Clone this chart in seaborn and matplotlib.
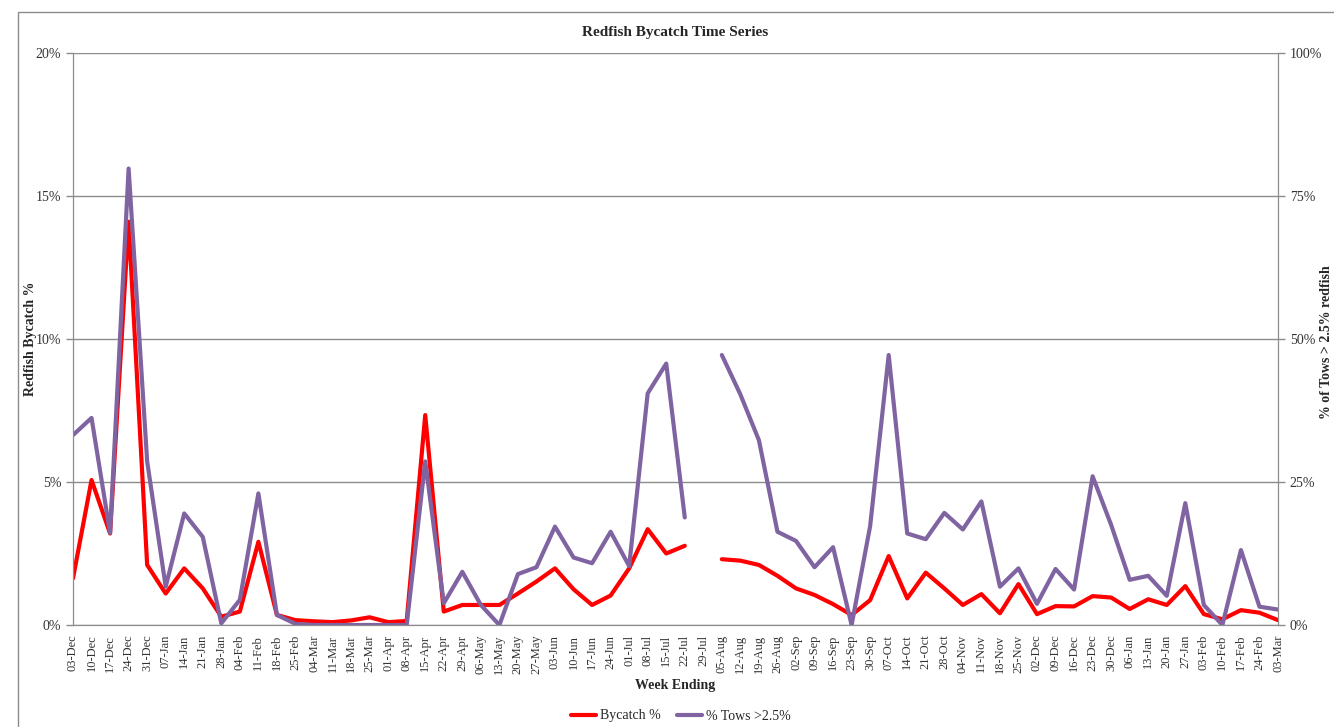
import matplotlib
matplotlib.use('Agg')
import matplotlib.pyplot as plt
import matplotlib.patches as mpatches
from matplotlib.lines import Line2D
from matplotlib.ticker import FuncFormatter, MultipleLocator
import seaborn as sns
import numpy as np
import pandas as pd

# week ending labels
weeks = ['03-Dec', '10-Dec', '17-Dec', '24-Dec', '31-Dec', '07-Jan', '14-Jan', '21-Jan', '28-Jan',
         '04-Feb', '11-Feb', '18-Feb', '25-Feb', '04-Mar', '11-Mar', '18-Mar', '25-Mar', '01-Apr',
         '08-Apr', '15-Apr', '22-Apr', '29-Apr', '06-May', '13-May', '20-May', '27-May', '03-Jun',
         '10-Jun', '17-Jun', '24-Jun', '01-Jul', '08-Jul', '15-Jul', '22-Jul', '29-Jul', '05-Aug',
         '12-Aug', '19-Aug', '26-Aug', '02-Sep', '09-Sep', '16-Sep', '23-Sep', '30-Sep', '07-Oct',
         '14-Oct', '21-Oct', '28-Oct', '04-Nov', '11-Nov', '18-Nov', '25-Nov', '02-Dec', '09-Dec',
         '16-Dec', '23-Dec', '30-Dec', '06-Jan', '13-Jan', '20-Jan', '27-Jan', '03-Feb', '10-Feb',
         '17-Feb', '24-Feb', '03-Mar']

# redfish bycatch % (left axis)
bycatch = [1.63, 5.07, 3.2, 14.1, 2.1, 1.1, 1.98, 1.28, 0.29, 0.47, 2.91, 0.35, 0.17, 0.13,
           0.1, 0.16, 0.27, 0.1, 0.14, 7.34, 0.47, 0.7, 0.7, 0.7, 1.1, 1.52, 1.98, 1.25, 0.7,
           1.03, 1.98, 3.35, 2.5, 2.77, np.nan, 2.3, 2.25, 2.1, 1.72, 1.28, 1.05, 0.73, 0.35,
           0.87, 2.41, 0.93, 1.83, 1.28, 0.7, 1.08, 0.41, 1.43, 0.38, 0.66, 0.65, 1.01, 0.96,
           0.56, 0.9, 0.7, 1.36, 0.38, 0.2, 0.52, 0.43, 0.17]

# % of tows > 2.5% redfish (right axis)
tows = [33.2, 36.2, 16.1, 79.8, 28.6, 6.7, 19.5, 15.4, 0.3, 4.4, 23.0, 1.75, 0.2, 0.0,
        0.0, 0.0, 0.0, 0.0, 0.0, 28.6, 3.8, 9.3, 3.5, 0.0, 8.9, 10.1, 17.2, 11.8, 10.8,
        16.3, 10.3, 40.5, 45.7, 18.8, np.nan, 47.2, 40.3, 32.3, 16.3, 14.7, 10.1, 13.6, 0.0,
        17.3, 47.2, 16.0, 15.0, 19.6, 16.7, 21.6, 6.7, 9.9, 3.7, 9.8, 6.2, 26.0, 17.5,
        7.9, 8.6, 5.1, 21.3, 3.5, 0.0, 13.1, 3.2, 2.7]

RED = '#FF0000'
PURPLE = '#8064A2'
GRID = '#8C8C8C'

sns.set_style('white')
plt.rcParams['font.family'] = ['Liberation Serif', 'DejaVu Serif']

def frame(vals):
    df = pd.DataFrame({'idx': np.arange(len(vals)), 'val': vals})
    # split into runs so missing weeks leave a gap
    df['seg'] = df['val'].isna().cumsum()
    return df.dropna()

fig = plt.figure(figsize=(13.34, 7.27), dpi=100)
fig.subplots_adjust(left=73/1334, right=1278/1334, top=1-53/727, bottom=1-625/727)
ax = fig.add_subplot(111)
ax2 = ax.twinx()

sns.lineplot(data=frame(bycatch), x='idx', y='val', units='seg', estimator=None,
             color=RED, lw=3, ax=ax)
sns.lineplot(data=frame(tows), x='idx', y='val', units='seg', estimator=None,
             color=PURPLE, lw=3, ax=ax2)

ax.set_xlim(0, len(weeks) - 1)
ax.set_ylim(0, 20)
ax2.set_ylim(0, 100)
ax.yaxis.set_major_locator(MultipleLocator(5))
ax2.yaxis.set_major_locator(MultipleLocator(25))
ax.yaxis.set_major_formatter(FuncFormatter(lambda v, p: '%d%%' % v))
ax2.yaxis.set_major_formatter(FuncFormatter(lambda v, p: '%d%%' % v))
ax.set_xticks(np.arange(len(weeks)))
ax.set_xticklabels(weeks, rotation=90, fontsize=9)

ax.grid(axis='y', color=GRID, lw=1)
ax.set_axisbelow(True)
for a in (ax, ax2):
    for s in a.spines.values():
        s.set_color(GRID)
    a.spines['top'].set_visible(False)
    a.tick_params(axis='both', length=5, width=1, color=GRID, labelsize=10, colors='#333333')
ax.tick_params(axis='x', labelsize=9, pad=2)

ax.set_xlabel('Week Ending', fontsize=10, fontweight='bold', labelpad=3)
ax.set_ylabel('Redfish Bycatch %', fontsize=10, fontweight='bold')
ax.yaxis.set_label_coords(-0.03, 0.5)
ax2.set_ylabel('')
ax.set_title('Redfish Bycatch Time Series', fontsize=11, fontweight='bold', pad=12)
fig.text(1327/1334, 1-342/727, '% of Tows > 2.5% redfish', rotation=90, ha='center', va='center',
         fontsize=10, fontweight='bold')

handles = [Line2D([], [], color=RED, lw=3), Line2D([], [], color=PURPLE, lw=3)]
fig.legend(handles, ['Bycatch %', '% Tows >2.5%'], loc='center', ncol=2, frameon=False,
           bbox_to_anchor=(681/1334, 1-716/727), fontsize=10, handlelength=1.8,
           handletextpad=0.25, columnspacing=1.2)

fig.patches.append(mpatches.Rectangle((18/1334, -0.01), 1.0, 1-12/727+0.01, transform=fig.transFigure,
                                      fill=False, edgecolor='#8C8C8C', lw=1))

fig.savefig('out.png', dpi=100)
